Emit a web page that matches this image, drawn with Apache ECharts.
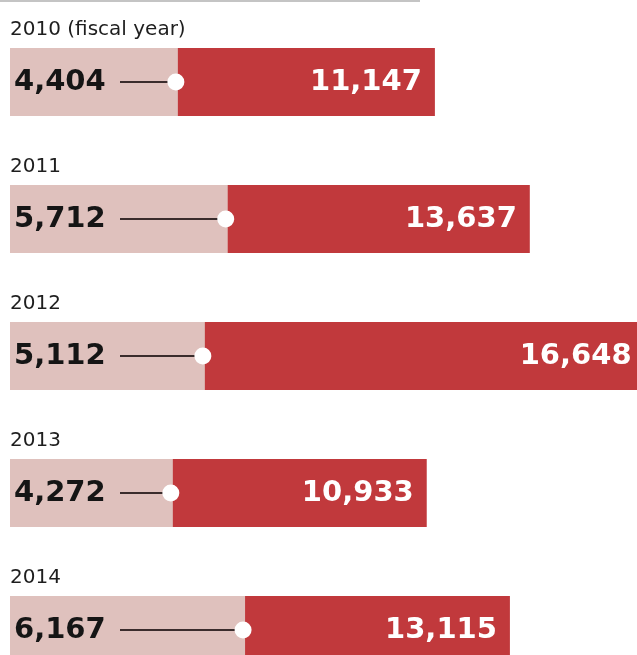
<!DOCTYPE html>
<html>
<head>
<meta charset="utf-8">
<script src="https://cdn.jsdelivr.net/npm/echarts@6/dist/echarts.min.js"></script>
<style>
html,body{margin:0;padding:0;background:#fff;}
#chart{width:637px;height:655px;}
</style>
</head>
<body>
<div id="chart"></div>
<script>
const years = ['2010', '2011', '2012', '2013', '2014'];
const yearNotes = ['(fiscal year)', '', '', '', ''];
const lightValues = [4404, 5712, 5112, 4272, 6167];
const redValues = [11147, 13637, 16648, 10933, 13115];

const fmt = v => Number(v).toLocaleString('en-US');
const chart = echarts.init(document.getElementById('chart'));

chart.setOption({
  animation: false,
  backgroundColor: '#ffffff',
  grid: { left: 10, top: 13.5, width: 648, height: 685, containLabel: false, outerBoundsMode: 'none' },
  xAxis: { type: 'value', min: 0, max: 17000, show: false },
  yAxis: { type: 'category', data: years, inverse: true, show: false },
  graphic: [{
    type: 'line', shape: { x1: 0, y1: 1, x2: 420, y2: 1 },
    style: { stroke: '#c4c4c4', lineWidth: 2 }
  }],
  series: [
    {
      type: 'bar', data: redValues, barWidth: 68, z: 1,
      itemStyle: { color: '#c1393c' },
      label: {
        show: true, position: 'insideRight', distance: 13,
        formatter: p => fmt(p.value),
        color: '#ffffff', fontFamily: 'DejaVu Sans', fontWeight: 'bold', fontSize: 29
      }
    },
    {
      type: 'bar', data: lightValues, barWidth: 68, barGap: '-100%', z: 2,
      itemStyle: { color: '#dfc1bd' },
      label: {
        show: true, position: 'insideLeft', distance: 4,
        formatter: p => fmt(p.value),
        color: '#151515', fontFamily: 'DejaVu Sans', fontWeight: 'bold', fontSize: 29
      }
    },
    {
      type: 'custom', z: 5,
      data: lightValues.map((v, i) => [v, i]),
      encode: { x: 0, y: 1 },
      renderItem: (params, api) => {
        const i = params.dataIndex;
        const pt = api.coord([api.value(0), api.value(1)]);
        const left = params.coordSys.x;
        const barTop = pt[1] - 34;
        const label = years[i] + (yearNotes[i] ? ' ' + yearNotes[i] : '');
        return {
          type: 'group',
          children: [
            {
              type: 'line',
              shape: { x1: left + 110, y1: pt[1], x2: pt[0] - 4, y2: pt[1] },
              style: { stroke: '#3a2c2c', lineWidth: 2 }
            },
            {
              type: 'circle',
              shape: { cx: pt[0] - 2, cy: pt[1], r: 8.5 },
              style: { fill: '#ffffff' }
            },
            {
              type: 'text',
              style: {
                text: label, x: left, y: barTop - 18,
                verticalAlign: 'middle', align: 'left',
                fill: '#1e1e1e', fontFamily: 'DejaVu Sans', fontSize: 20
              }
            }
          ]
        };
      }
    }
  ]
});
</script>
</body>
</html>
